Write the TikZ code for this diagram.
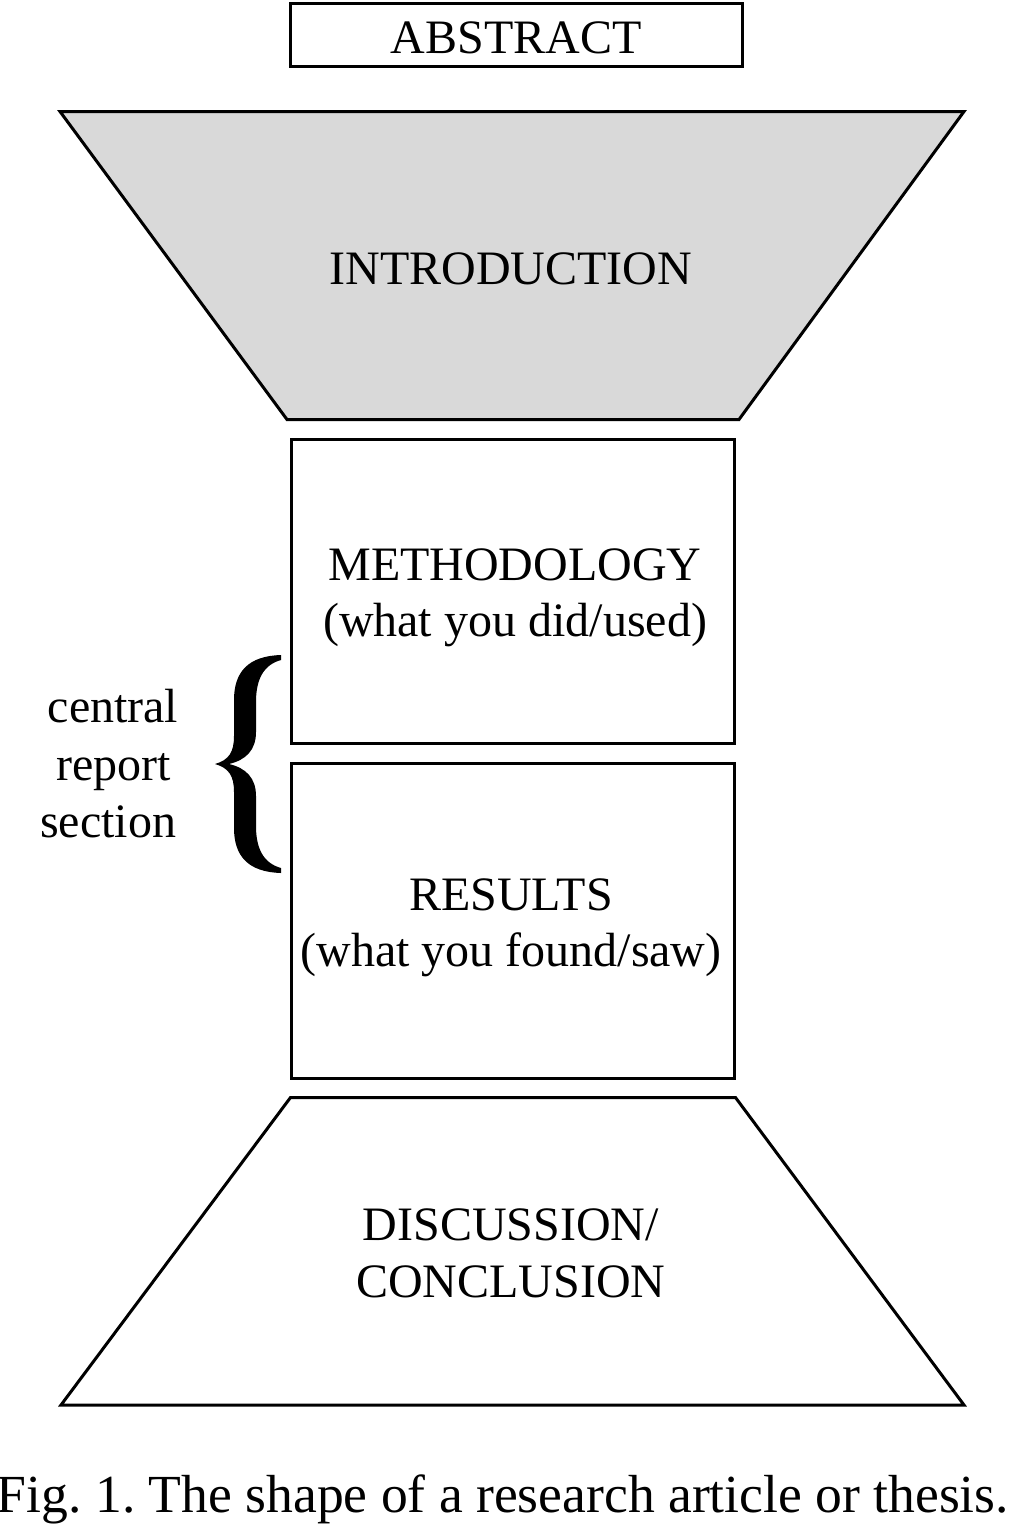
\documentclass[tikz,border=0pt]{standalone}
\usepackage{fontspec}
\setmainfont{Liberation Serif}
\definecolor{introgray}{HTML}{D9D9D9}
\begin{document}
\frenchspacing
\begin{tikzpicture}[x=0.5pt,y=-0.5pt,
  outline/.style={draw=black, line width=1.5pt, line join=miter},
  lbl/.style={anchor=base, inner sep=0pt, font=\fontsize{24}{29}\selectfont},
  captiontext/.style={anchor=base, inner sep=0pt, font=\fontsize{26.8}{30}\selectfont}]
\useasboundingbox (0,0) rectangle (1008,1528);
% abstract
\draw[outline] (290.5,3.5) rectangle (742.5,66.5);
\node[lbl] (abstract) at (516,53) {ABSTRACT};
% introduction funnel
\draw[outline, fill=introgray] (60,111.5) -- (964,111.5) -- (739,419.5) -- (287,419.5) -- cycle;
\node[lbl] (intro) at (511,284) {INTRODUCTION};
% methodology
\draw[outline] (291.5,439.5) rectangle (734,743);
\node[lbl] (meth1) at (515,580) {METHODOLOGY};
\node[lbl] (meth2) at (515,636) {(what you did/used)};
% results
\draw[outline] (291.5,763.5) rectangle (734,1078);
\node[lbl] (res1) at (511,910) {RESULTS};
\node[lbl] (res2) at (511,966) {(what you found/saw)};
% discussion funnel
\draw[outline] (290.5,1097.5) -- (735.5,1097.5) -- (964,1405) -- (61,1405) -- cycle;
\node[lbl] (disc1) at (511,1240) {DISCUSSION/};
\node[lbl] (disc2) at (511,1297) {CONCLUSION};
% brace
\fill[black] (281,655) .. controls (248,656) and (234,672) .. (234,700) -- (234,736)
  .. controls (234,752) and (229,760) .. (215,764)
  .. controls (229,768) and (234,776) .. (234,792) -- (234,828)
  .. controls (234,856) and (248,872) .. (281,873)
  -- (281,868) .. controls (263,863) and (256,848) .. (256,826) -- (256,796)
  .. controls (256,778) and (246,768) .. (229,764)
  .. controls (246,760) and (256,750) .. (256,732) -- (256,702)
  .. controls (256,680) and (263,665) .. (281,660) -- cycle;
\node[lbl] (c1) at (113,722) {central};
\node[lbl] (c2) at (113.5,780) {report};
\node[lbl] (c3) at (108,837) {section};
% caption
\node[captiontext] (caption) at (503,1512) {Fig. 1. The shape of a research article or thesis.};
\end{tikzpicture}
\end{document}
